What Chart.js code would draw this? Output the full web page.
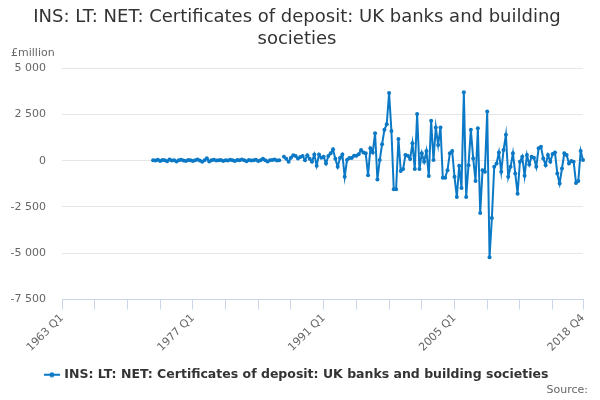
<!DOCTYPE html>
<html>
<head>
<meta charset="utf-8">
<script src="https://cdn.jsdelivr.net/npm/chart.js@4"></script>
<style>
    html, body { margin: 0; padding: 0; background: #ffffff; }
</style>
</head>
<body>
<canvas id="certChart" width="600" height="400"></canvas>
<script>
// ======================================================
// Data
// ======================================================

const firstYear = 1963;
const lastYear = 2018;

const tickLabels = ["1963 Q1", "1977 Q1", "1991 Q1", "2005 Q1", "2018 Q4"];

const yTicks = [-7500, -5000, -2500, 0, 2500, 5000];

const seriesName =
    "INS: LT: NET: Certificates of deposit: UK banks and building societies";

const seriesStart = "1972 Q4";

// £million, quarterly, from seriesStart to 2018 Q4 (null = no value)
const seriesValues = [
    30, 10, 50, -20, 40, 20, -30, 60, 10, 30,
    -40, 20, 50, 10, -20, 40, 30, -10, 20, 60,
    10, -50, 20, 130, -40, 30, 50, 10, 20, 40,
    -20, 30, 10, 50, 20, -10, 40, 30, 60, 20,
    -30, 40, 10, 30, 50, -20, 20, 100, 30, -40,
    20, 40, 60, 10, 30,
    null,
    220, 100, -50, 160, 300, 250, 120, 200, 250, 30, 300, 100, -50,
    330, -270, 330, 160, 220, -150, 250, 400, 615, 100,
    -330, 150, 340, -870, 50, 150, 150, 270, 270, 350,
    580, 450, 400, -780, 670, 450, 1480, -1015, 35, 890,
    1670, 1975, 3660, 1610, -1540, -1540, 1180,
    -560, -450, 310, 270, 90, 940, -450, 2520, -450, 400,
    -50, 525, -830, 2160, 35, 1800, 850, 1800, -920, -920,
    -510, 400, 525, -870, -1960, -270, -1470, 3700,
    -1960, -240, 1670, 125, -1090, 1760, -2830, -510, -600, 2660,
    -5220, -3100, -330, -150, 450, -600, 580, 1400, -870, -330,
    400, -690, -1780, -50, 220, -815, 310, -200,
    220, 160, -330, 670, 760, 125, -240, 310, -50, 360,
    450, -690, -1230, -420, 400, 310, -150, -20, -50, -1200,
    -1100, 525, 35
];

// ======================================================
// Categories
// ======================================================

const categories = [];

for (let year = firstYear; year <= lastYear; year++) {
    for (let q = 1; q <= 4; q++) {
        categories.push(`${year} Q${q}`);
    }
}

const startIndex = categories.indexOf(seriesStart);

const seriesData =
    new Array(startIndex).fill(null).concat(seriesValues);

// minor tick every 14 quarters, plus the last quarter
const tickIndexes = [];

for (let i = 0; i < categories.length - 1; i += 14) {
    tickIndexes.push(i);
}
tickIndexes.push(categories.length - 1);

// ======================================================
// Helpers
// ======================================================

const lineColor = "#0b79c5";

function formatThousands(value) {
    const sign = value < 0 ? "-" : "";
    return sign + String(Math.abs(value)).replace(/\B(?=(\d{3})+(?!\d))/g, " ");
}

function legendSymbol() {
    const c = document.createElement("canvas");
    c.width = 16;
    c.height = 6;
    const g = c.getContext("2d");
    g.strokeStyle = lineColor;
    g.lineWidth = 2;
    g.beginPath();
    g.moveTo(0, 3);
    g.lineTo(16, 3);
    g.stroke();
    g.fillStyle = lineColor;
    g.beginPath();
    g.arc(8, 3, 2.5, 0, Math.PI * 2);
    g.fill();
    return c;
}

// "£million" above the y axis and "Source:" in the bottom right corner
const extraText = {
    id: "extraText",
    afterDraw(chart) {
        const ctx = chart.ctx;
        ctx.save();
        ctx.font = "11px 'DejaVu Sans'";
        ctx.fillStyle = "#666666";
        ctx.textBaseline = "middle";
        ctx.textAlign = "left";
        ctx.fillText("£million", 11, chart.chartArea.top - 15);
        ctx.textAlign = "right";
        ctx.fillText("Source:", 588, 390);
        ctx.restore();
    }
};

// ======================================================
// Chart
// ======================================================

Chart.defaults.font.family = "'DejaVu Sans', sans-serif";

new Chart(document.getElementById("certChart"), {
    type: "line",

    data: {
        labels: categories,
        datasets: [{
            label: seriesName,
            data: seriesData,
            borderColor: lineColor,
            backgroundColor: lineColor,
            borderWidth: 2,
            pointRadius: 2,
            pointHoverRadius: 3,
            pointBorderWidth: 0,
            tension: 0,
            spanGaps: false
        }]
    },

    options: {
        responsive: false,
        animation: false,

        layout: {
            padding: { left: 11, right: 17, top: 0, bottom: 9 }
        },

        plugins: {
            title: {
                display: true,
                text: [
                    "INS: LT: NET: Certificates of deposit: UK banks and building",
                    "societies"
                ],
                color: "#333333",
                font: { size: 18, weight: "normal", lineHeight: 1.2 },
                padding: { top: 7, bottom: 18 }
            },

            legend: {
                position: "bottom",
                labels: {
                    color: "#333333",
                    font: { size: 12.5, weight: "bold" },
                    usePointStyle: true,
                    pointStyle: legendSymbol(),
                    padding: 6
                }
            },

            tooltip: { enabled: false }
        },

        scales: {
            x: {
                type: "category",
                afterBuildTicks(scale) {
                    scale.ticks = tickIndexes.map(v => ({ value: v }));
                },
                afterFit(scale) {
                    scale.paddingLeft = 0;
                    scale.paddingRight = 0;
                    scale.height = 63;
                },
                ticks: {
                    autoSkip: false,
                    minRotation: 45,
                    maxRotation: 45,
                    color: "#666666",
                    font: { size: 11 },
                    padding: 2,
                    callback(value) {
                        const label = categories[value];
                        return tickLabels.includes(label) ? label : "";
                    }
                },
                grid: {
                    drawOnChartArea: false,
                    drawTicks: true,
                    tickLength: 10,
                    tickColor: "#ccd6eb",
                    color: "#ccd6eb"
                },
                border: { color: "#ccd6eb", width: 1 }
            },

            y: {
                min: -7500,
                max: 5000,
                afterBuildTicks(scale) {
                    scale.ticks = yTicks.map(v => ({ value: v }));
                },
                afterFit(scale) {
                    scale.width = 51;
                },
                ticks: {
                    color: "#666666",
                    font: { size: 11 },
                    padding: 16,
                    callback: value => formatThousands(value)
                },
                grid: {
                    color: "#e6e6e6",
                    drawTicks: false
                },
                border: { display: false }
            }
        }
    },

    plugins: [extraText]
});
</script>
</body>
</html>
